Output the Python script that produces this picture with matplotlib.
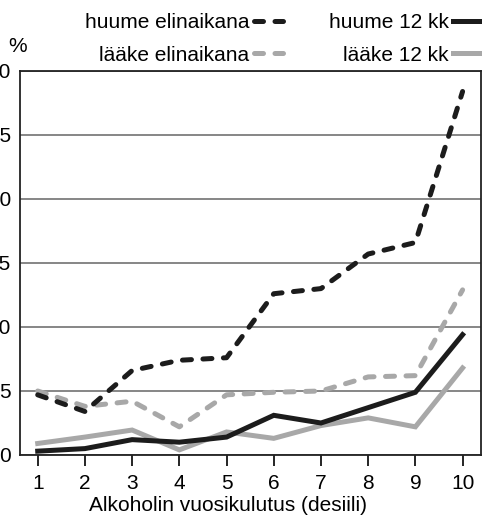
import numpy as np
import matplotlib
matplotlib.use('Agg')
import matplotlib.pyplot as plt

plt.rcParams['font.family'] = ['Liberation Sans', 'DejaVu Sans']

deciles = [1, 2, 3, 4, 5, 6, 7, 8, 9, 10]
huume_elinaikana = [4.7, 3.4, 6.6, 7.4, 7.6, 12.6, 13.0, 15.7, 16.6, 28.4]
laake_elinaikana = [5.0, 3.8, 4.2, 2.2, 4.7, 4.9, 5.0, 6.1, 6.2, 12.9]
huume_12kk = [0.3, 0.5, 1.2, 1.0, 1.4, 3.1, 2.5, 3.7, 4.9, 9.4]
laake_12kk = [0.9, 1.4, 1.95, 0.4, 1.8, 1.3, 2.3, 2.9, 2.2, 6.8]

BLACK = '#1c1c1c'
GREY = '#a8a8a8'
DASH = (0, (1.8, 2.3))
FS = 15

fig = plt.figure(figsize=(4.82, 5.25), dpi=100)
ax = fig.add_axes([20/482, 1 - 455/525, 461/482, 384/525])

lw = 3.6
ax.plot(deciles, laake_12kk, color=GREY, lw=lw, solid_joinstyle='miter', label='lääke 12 kk')
ax.plot(deciles, huume_12kk, color=BLACK, lw=lw, solid_joinstyle='miter', label='huume 12 kk')
ax.plot(deciles, laake_elinaikana, color=GREY, lw=lw, ls=DASH, dash_capstyle='round', label='lääke elinaikana')
ax.plot(deciles, huume_elinaikana, color=BLACK, lw=lw, ls=DASH, dash_capstyle='round', label='huume elinaikana')

ax.set_xlim(0.625, 10.39)
ax.set_ylim(0, 30)
ax.set_xticks(deciles)
ax.set_yticks([0, 5, 10, 15, 20, 25, 30])
ax.tick_params(axis='x', direction='out', length=8, width=1.2, pad=6, labelsize=FS)
ax.tick_params(axis='y', length=0, pad=6.5, labelsize=FS)
ax.grid(True, axis='y', color='#666666', lw=1.1)
ax.set_axisbelow(True)
for s in ax.spines.values():
    s.set_linewidth(1.3)
    s.set_color('#222222')

ax.set_xlabel('Alkoholin vuosikulutus (desiili)', fontsize=FS, labelpad=1.5)
ax.xaxis.label.set_x((228 - 20) / 461)

fig.text(8/482, 1 - 47/525, '%', fontsize=FS, va='center', ha='left')

h = {l.get_label(): l for l in ax.get_lines()}
order = ['huume elinaikana', 'lääke elinaikana', 'huume 12 kk', 'lääke 12 kk']
fig.legend([h[k] for k in order], order, ncol=2, markerfirst=False, frameon=False,
           loc='upper right', bbox_to_anchor=(1.0, 1 - 13/525), fontsize=FS,
           handlelength=1.4, handletextpad=0.2, columnspacing=2.2,
           labelspacing=0.65, borderaxespad=0, borderpad=0)

fig.savefig('out.png', dpi=100)
